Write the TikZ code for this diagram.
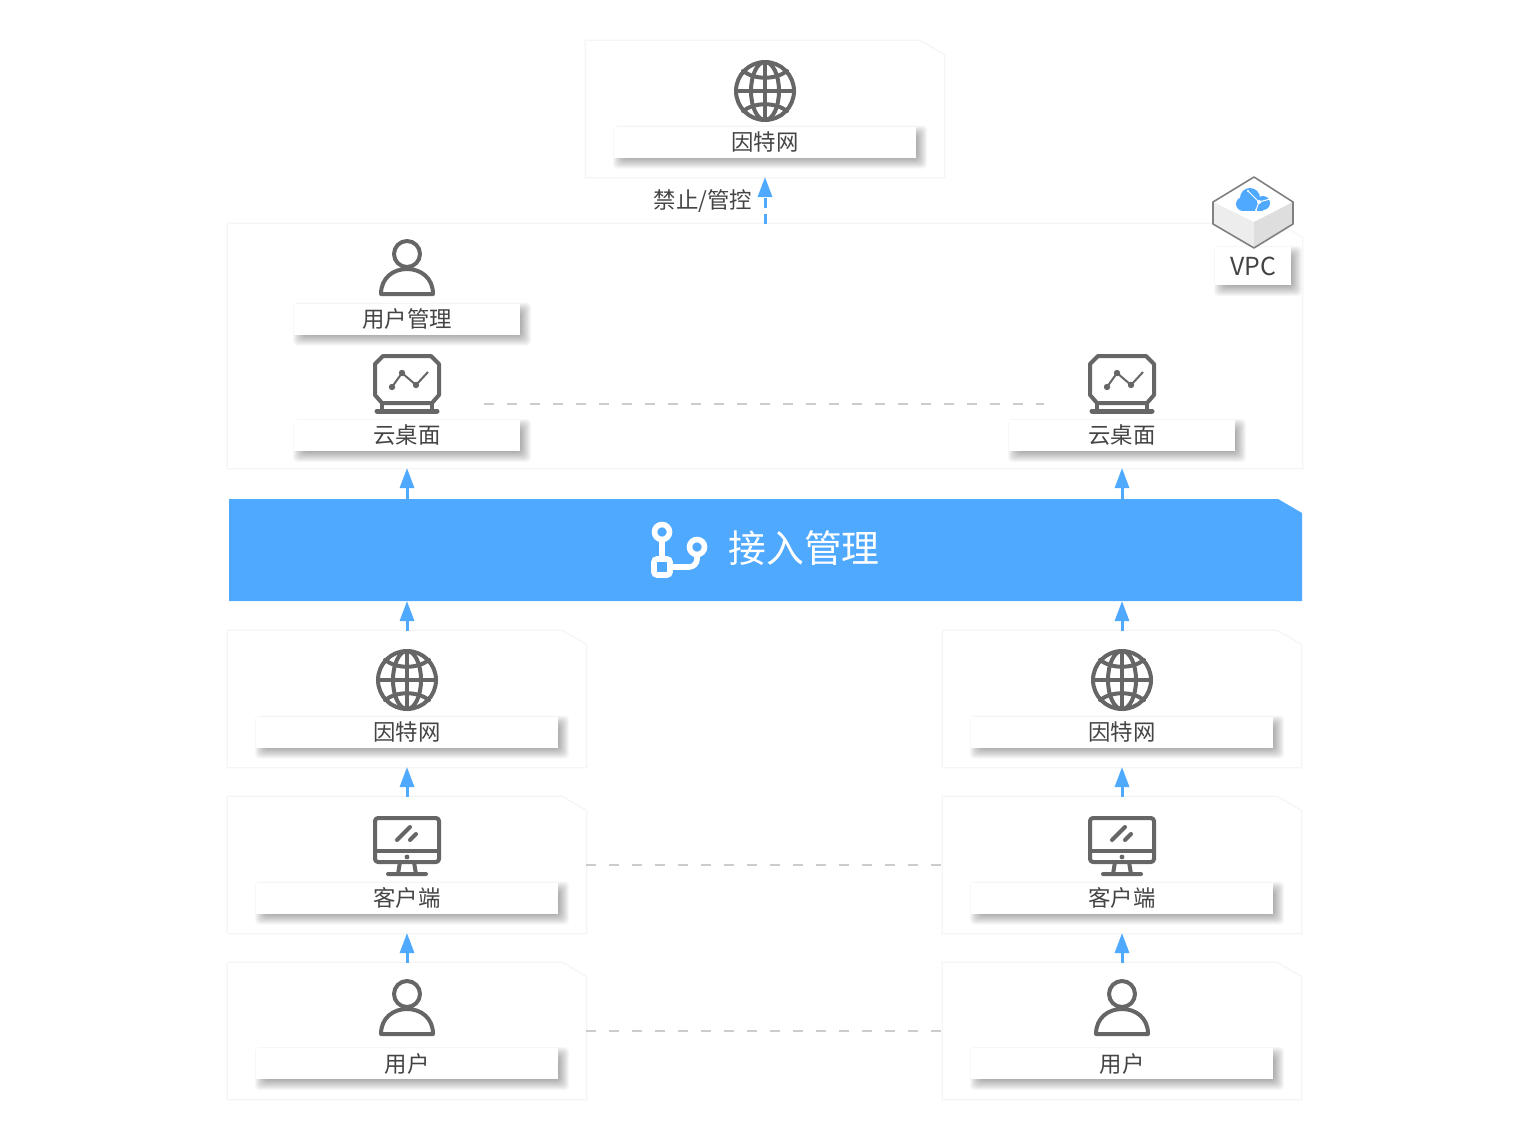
\documentclass[tikz,border=0pt]{standalone}
\usepackage{fontspec}
\setmainfont{Noto Sans CJK SC}
\usetikzlibrary{arrows.meta}
\definecolor{flowblue}{HTML}{4FA9FF}
\definecolor{icongray}{HTML}{666666}
\definecolor{textgray}{HTML}{444444}
\pgfdeclarelayer{cardlayer}
\pgfdeclarelayer{shadowlayer}
\pgfsetlayers{cardlayer,shadowlayer,main}
\begin{document}
\begin{tikzpicture}[x=0.5pt,y=-0.5pt,
    softedge/.style={preaction={draw=black,draw opacity=.012,line width=2pt},
                     preaction={draw=black,draw opacity=.018,line width=1.2pt},
                     preaction={draw=black,draw opacity=.02,line width=.5pt}},
    cutcorner/.style={inner sep=0pt,outer sep=0pt,
                 append after command={\pgfextra{
                     \begin{pgfonlayer}{cardlayer}
                     \path[#1] (\tikzlastnode.north west) -- ([xshift=-12pt]\tikzlastnode.north east)
                         -- ([yshift=-7pt]\tikzlastnode.north east) -- (\tikzlastnode.south east)
                         -- (\tikzlastnode.south west) -- cycle;
                     \end{pgfonlayer}}}},
    card/.style={cutcorner={fill=white,softedge},minimum width=179pt,minimum height=68pt},
    labelbox/.style={fill=white,inner sep=0pt,outer sep=0pt,text=textgray,font=\fontsize{11.2}{13}\selectfont,
                 minimum width=151pt,minimum height=15.5pt,
                 append after command={\pgfextra{
                     \edef\boxname{\tikzlastnode}
                     \begin{pgfonlayer}{shadowlayer}
                     \foreach \grow in {-3,-2.5,...,3} {
                         \fill[black,fill opacity=.03,rounded corners=2pt]
                             ([xshift={2.5-(\grow)},yshift={-2.5-(\grow)}]\boxname.south west) rectangle
                             ([xshift={2.5+(\grow)},yshift={-2.5+(\grow)}]\boxname.north east);
                     }
                     \end{pgfonlayer}}}},
    shortbox/.style={labelbox,minimum width=113pt},
    flow/.style={-{Triangle[length=10pt,width=7pt]},draw=flowblue,line width=1.5pt},
    peer/.style={draw=black!20,line width=.6pt,dash pattern=on 5pt off 6.5pt},
    icon/.style={draw=icongray,line width=2pt,line join=round,line cap=round},
    globe/.pic={
        \draw[icon] (0,0) circle (29);
        \draw[icon] (0,0) ellipse (14 and 29);
        \draw[icon] (0,-29) -- (0,29) (-29,0) -- (29,0);
        \draw[icon] (-22,-20) .. controls (-10,-11) and (10,-11) .. (22,-20);
        \draw[icon] (-22,20) .. controls (-10,11) and (10,11) .. (22,20);
    },
    person/.pic={
        \draw[icon] (0,-14) circle (13);
        \draw[icon] (-26,26) .. controls (-26,10) and (-14,1) .. (0,1)
                    .. controls (14,1) and (26,10) .. (26,26) -- cycle;
    },
    desktop/.pic={
        \draw[icon,rounded corners=1.5pt] (-32,-22) rectangle (32,22);
        \draw[icon] (-32,11) -- (32,11);
        \fill[icongray] (0,17) circle (2.4);
        \draw[icon] (-10,0) -- (3,-13) (3,0) -- (9,-6);
        \draw[icon] (-7,22) -- (-9,34) (7,22) -- (9,34) (-19,34) -- (19,34);
    },
    screen/.pic={
        \draw[icon] (-24,-27) -- (24,-27) -- (32,-19) -- (32,12) -- (25,20) -- (-25,20)
                    -- (-32,12) -- (-32,-19) -- cycle;
        \draw[icon] (-25,20) -- (-25,28) (25,20) -- (25,28);
        \draw[icon,line width=2.5pt] (-30,28) -- (30,28);
        \draw[icongray,line width=1pt] (-15,4) -- (-5,-10) -- (9,2) -- (21,-11);
        \foreach \dotx/\doty in {-15/4,-5/-10,9/2} {
            \fill[icongray] (\dotx,\doty) circle (3.2);
        }
    },
    branch/.pic={
        \draw[white,line width=2.8pt] (-18,-18) circle (7.5) (17,-3) circle (7.5);
        \draw[white,line width=2.8pt,rounded corners=1.5pt] (-26,9) rectangle (-10,25);
        \draw[white,line width=2.8pt] (-18,-10) -- (-18,9);
        \draw[white,line width=2.8pt,rounded corners=4pt] (-10,17) -- (17,17) -- (17,5);
    }]
\tikzset{every node/.style={font=\fontsize{11.2}{13}\selectfont,text=textgray}}
\begin{pgfonlayer}{cardlayer}
\fill[white] (0,0) rectangle (1530,1140);
\end{pgfonlayer}
\useasboundingbox (0,0) rectangle (1530,1140);

% top
\node[card] (inet) at (765,109) {};
\pic at (765,91) {globe};
\node[labelbox] (inetlabel) at (765,142) {因特网};

% cloud side
\node[card,minimum width=537pt,minimum height=122pt] (vpc) at (765,346) {};
\pic at (407,268) {person};
\node[shortbox] (adminlabel) at (407,319) {用户管理};
\pic at (407,383) {screen};
\node[shortbox] (deskL) at (407,435.5) {云桌面};
\pic at (1122,383) {screen};
\node[shortbox] (deskR) at (1122,435.5) {云桌面};
\coordinate (peerL) at (484,404);
\coordinate (peerR) at (1044,404);
\draw[peer] (peerL) -- (peerR);

% vpc badge
\node[shortbox,minimum width=38pt,minimum height=19pt,font=\fontsize{12.4}{14}\selectfont] (vpclabel) at (1253,266) {VPC};
\fill[white] (1254,177) -- (1293,202) -- (1254,222) -- (1213,202) -- cycle;
\fill[black!7] (1213,202) -- (1254,222) -- (1254,248) -- (1213,224) -- cycle;
\fill[black!13] (1293,202) -- (1254,222) -- (1254,248) -- (1293,224) -- cycle;
\draw[draw=black!50,line width=.8pt,line join=round] (1254,177) -- (1293,202) -- (1293,224)
    -- (1254,248) -- (1213,224) -- (1213,202) -- cycle;
\fill[flowblue] (1250,198) circle (10) (1243,204) circle (7) (1263,203) circle (7);
\fill[flowblue] (1243,205) rectangle (1263,211);
\draw[white,line width=.5pt] (1248,191) -- (1259,202) -- (1256,210) (1259,202) -- (1270,199);
\fill[white] (1259,202) circle (2) (1248,191) circle (1.2) (1256,210) circle (1.2);

% access layer
\node[cutcorner={fill=flowblue},minimum width=536.5pt,minimum height=51pt] (access) at (765.5,550) {};
\pic at (680,550) {branch};
\node[text=white,inner sep=0pt,font=\fontsize{18.9}{20}\selectfont] (accesslabel) at (804,548) {接入管理};

% two client columns
\foreach \side/\xpos in {L/407,R/1122} {
    \node[card] (net\side) at (\xpos,699) {};
    \pic at (\xpos,680) {globe};
    \node[labelbox] (netlabel\side) at (\xpos,732) {因特网};
    \node[card] (client\side) at (\xpos,865) {};
    \pic at (\xpos,840) {desktop};
    \node[labelbox] (clientlabel\side) at (\xpos,898) {客户端};
    \node[card] (user\side) at (\xpos,1031) {};
    \pic at (\xpos,1008) {person};
    \node[labelbox] (userlabel\side) at (\xpos,1063.5) {用户};
    \draw[flow] (user\side.north) -- (client\side.south);
    \draw[flow] (client\side.north) -- (net\side.south);
    \draw[flow] (net\side.north) -- (access.south -| net\side);
    \draw[flow] (access.north -| net\side) -- (vpc.south -| net\side);
}
\draw[peer] (clientL.east) -- (clientR.west);
\draw[peer] (userL.east) -- (userR.west);

\draw[flow,dash pattern=on 5pt off 3pt] (vpc.north) -- (inet.south);
\node[inner sep=0pt] (blocklabel) at (703,201) {禁止/管控};
\end{tikzpicture}
\end{document}
